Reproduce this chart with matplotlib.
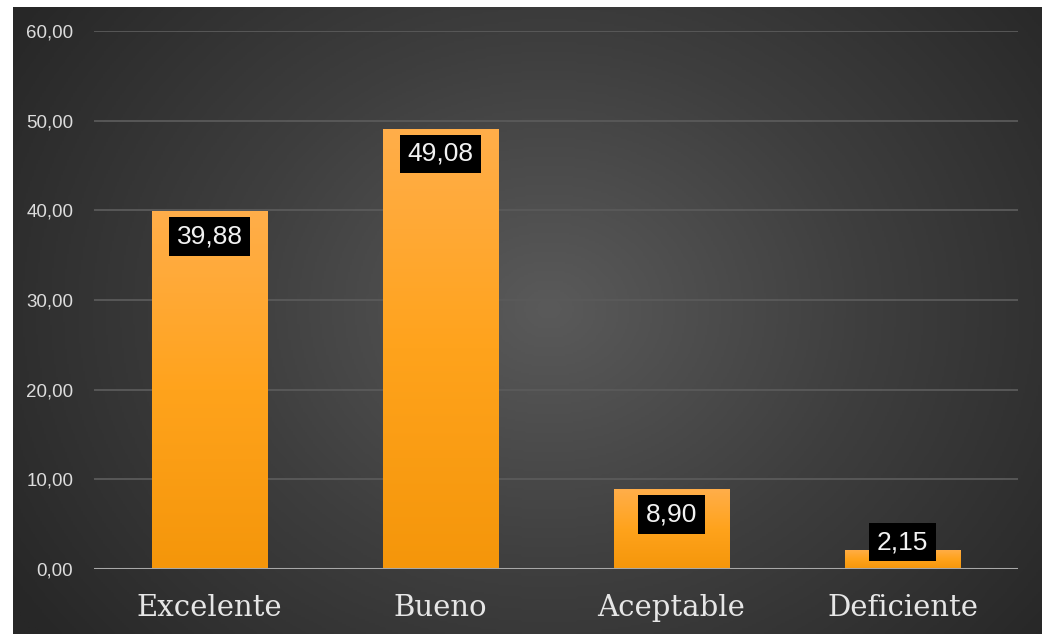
import numpy as np
import matplotlib
matplotlib.use("Agg")
import matplotlib.pyplot as plt
from matplotlib.colors import LinearSegmentedColormap

categories = ["Excelente", "Bueno", "Aceptable", "Deficiente"]
values = [39.88, 49.08, 8.90, 2.15]
value_labels = ["39,88", "49,08", "8,90", "2,15"]
yticks = [0, 10, 20, 30, 40, 50, 60]
ytick_labels = ["0,00", "10,00", "20,00", "30,00", "40,00", "50,00", "60,00"]

W, H = 1042, 634
fig = plt.figure(figsize=(W / 100, H / 100), dpi=100, facecolor="white")

# dark radial-gradient background panel
bg_ax = fig.add_axes([13 / W, 0, 1 - 13 / W, 1 - 7 / H])
bg_ax.set_axis_off()
ny, nx = 300, 500
yy, xx = np.mgrid[0:ny, 0:nx]
cx, cy = nx * 0.52, ny * 0.48
r = np.sqrt(((xx - cx) / (nx * 0.62)) ** 2 + ((yy - cy) / (ny * 0.85)) ** 2)
r = np.clip(r, 0, 1)
bg_cmap = LinearSegmentedColormap.from_list("bg", ["#5a5a5a", "#3e3e3e", "#272727"])
bg_ax.imshow(r, cmap=bg_cmap, aspect="auto", extent=[0, 1, 0, 1], vmin=0, vmax=1)
bg_ax.set_xlim(0, 1)
bg_ax.set_ylim(0, 1)

# main axes
left, right = 94 / W, 1018 / W
bottom, top = 1 - 569 / H, 1 - 31 / H
ax = fig.add_axes([left, bottom, right - left, top - bottom])
ax.patch.set_alpha(0)
x = np.arange(len(categories))

for yv in yticks[1:]:
    ax.axhline(yv, color="#5a5a5a", lw=1.3, zorder=1)
ax.axhline(0, color="#a8a8a8", lw=2.2, zorder=4)

bars = ax.bar(x, values, width=0.5, color="#FFA21E", zorder=2)
bar_cmap = LinearSegmentedColormap.from_list("bar", ["#F5960A", "#FFA31C", "#FFAE4A"])
grad = np.linspace(0, 1, 256).reshape(-1, 1)
for b in bars:
    bx, by = b.get_x(), b.get_y()
    bw, bh = b.get_width(), b.get_height()
    im = ax.imshow(grad, cmap=bar_cmap, origin="lower", aspect="auto",
                   extent=[bx, bx + bw, by, by + bh], zorder=3)
    im.set_clip_path(b)
ax.set_xlim(-0.5, len(categories) - 0.5)
ax.set_ylim(0, 60)

px_per_unit = (569 - 31) / 60.0
for xi, v, lab in zip(x, values, value_labels):
    ypos = max(v - 25 / px_per_unit, 3.0)
    ax.text(xi, ypos, lab, ha="center", va="center", color="#f2f2f2",
            fontsize=19, family=["Liberation Sans", "DejaVu Sans"], zorder=6,
            bbox=dict(boxstyle="square,pad=0.28", facecolor="black", edgecolor="none"))

ax.set_yticks(yticks)
ax.set_yticklabels(ytick_labels, fontsize=13.5, color="#dcdcdc",
                   family=["Liberation Sans", "DejaVu Sans"])
ax.set_xticks(x)
ax.set_xticklabels(categories, fontsize=21, color="#e6e6e6",
                   family=["DejaVu Serif", "DejaVu Sans"])
ax.tick_params(axis="y", length=0, pad=15)
ax.tick_params(axis="x", length=0, pad=18)
for s in ax.spines.values():
    s.set_visible(False)

fig.savefig("out.png", dpi=100, facecolor="white")
